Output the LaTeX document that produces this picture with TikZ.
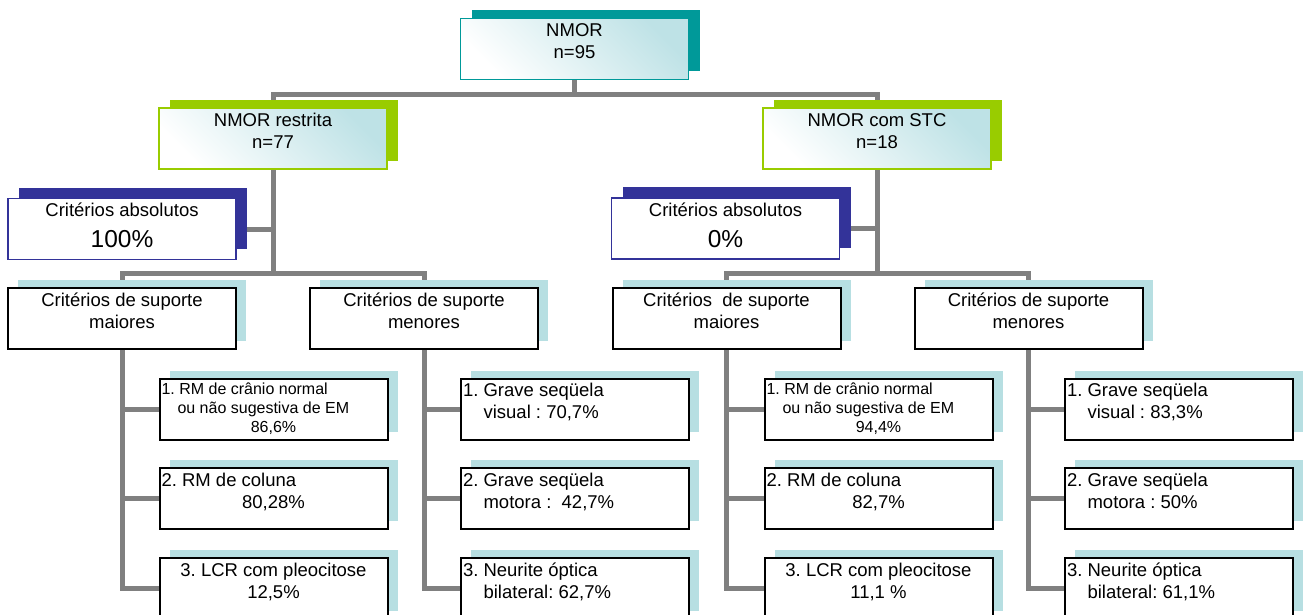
\documentclass[tikz,border=0pt]{standalone}
\usepackage{fontspec}
\setmainfont{Liberation Sans}
\usetikzlibrary{shadows,backgrounds}

\definecolor{tealc}{RGB}{0,153,153}
\definecolor{limec}{RGB}{153,204,0}
\definecolor{navyc}{RGB}{51,51,153}
\definecolor{paleblue}{RGB}{183,223,226}
\definecolor{paleteal}{RGB}{190,226,230}
\definecolor{linkgray}{RGB}{128,128,128}

\frenchspacing
\newcommand{\fsNorm}{\fontsize{18.5}{22}\selectfont}
\newcommand{\fsSmall}{\fontsize{16}{19}\selectfont}
\newcommand{\fsBig}{\fontsize{24.5}{28}\selectfont}
\newcommand{\cellbox}[1]{\parbox[c][55pt][t]{228pt}{\centering\strut#1}}
\newcommand{\lline}[1]{\makebox[\linewidth][l]{\hspace*{2pt}#1}}

\begin{document}
\begin{tikzpicture}[x=1pt, y=-1pt,
    box/.style={rectangle, inner xsep=0pt, inner ysep=3pt, font=\fsNorm},
    headbox/.style={box, draw=#1, line width=1.5pt,
                    top color=paleteal, bottom color=white, shading angle=-45,
                    drop shadow={shadow xshift=11pt, shadow yshift=8pt, fill=#1, opacity=1}},
    absbox/.style={box, draw=navyc, fill=white, line width=1.5pt,
                   drop shadow={shadow xshift=11pt, shadow yshift=11pt, fill=navyc, opacity=1}},
    critbox/.style={box, draw=black, fill=white, line width=2pt,
                    drop shadow={shadow xshift=10pt, shadow yshift=8pt, fill=paleblue, opacity=1}},
    link/.style={draw=linkgray, line width=5pt}
]
    \useasboundingbox (0,0) rectangle (1305,615);

    \node[headbox=tealc] (nmor) at (574.5,49) {\cellbox{NMOR\\n=95}};
    \node[headbox=limec] (restrita) at (273,138.5) {\cellbox{NMOR restrita\\n=77}};
    \node[headbox=limec] (stc) at (877,138.5) {\cellbox{NMOR com STC\\n=18}};

    \node[absbox] (absA) at (122,229) {\cellbox{Critérios absolutos\\[6pt]{\fsBig 100\%}}};
    \node[absbox] (absB) at (725.5,228.5) {\cellbox{Critérios absolutos\\[6pt]{\fsBig 0\%}}};

    \node[critbox] (majA) at (122,318.5) {\cellbox{Critérios de suporte\\maiores}};
    \node[critbox] (minA) at (424,318.5) {\cellbox{Critérios de suporte\\menores}};
    \node[critbox] (majB) at (726.5,318.5) {\cellbox{Critérios~~de suporte\\maiores}};
    \node[critbox] (minB) at (1028.5,318.5) {\cellbox{Critérios de suporte\\menores}};

    \node[critbox, font=\fsSmall] (majA1) at (273.5,409)
        {\cellbox{\lline{1. RM de crânio normal}\\\lline{\hspace*{16pt}ou não sugestiva de EM}\\86,6\%}};
    \node[critbox] (majA2) at (273.5,498.5) {\cellbox{\lline{2. RM de coluna}\\80,28\%}};
    \node[critbox] (majA3) at (273.5,588.5) {\cellbox{3. LCR com pleocitose\\12,5\%}};

    \node[critbox] (minA1) at (575,409) {\cellbox{\lline{1. Grave seqüela}\\\lline{\phantom{1.}\ visual : 70,7\%}}};
    \node[critbox] (minA2) at (575,498.5) {\cellbox{\lline{2. Grave seqüela}\\\lline{\phantom{1.}\ motora :~~42,7\%}}};
    \node[critbox] (minA3) at (575,588.5) {\cellbox{\lline{3. Neurite óptica}\\\lline{\phantom{1.}\ bilateral: 62,7\%}}};

    \node[critbox, font=\fsSmall] (majB1) at (878.5,409)
        {\cellbox{\lline{1. RM de crânio normal}\\\lline{\hspace*{16pt}ou não sugestiva de EM}\\94,4\%}};
    \node[critbox] (majB2) at (878.5,498.5) {\cellbox{\lline{2. RM de coluna}\\82,7\%}};
    \node[critbox] (majB3) at (878.5,588.5) {\cellbox{3. LCR com pleocitose\\11,1 \%}};

    \node[critbox] (minB1) at (1179,409) {\cellbox{\lline{1. Grave seqüela}\\\lline{\phantom{1.}\ visual : 83,3\%}}};
    \node[critbox] (minB2) at (1179,498.5) {\cellbox{\lline{2. Grave seqüela}\\\lline{\phantom{1.}\ motora : 50\%}}};
    \node[critbox] (minB3) at (1179,588.5) {\cellbox{\lline{3. Neurite óptica}\\\lline{\phantom{1.}\ bilateral: 61,1\%}}};

    \begin{scope}[on background layer]
        \draw[link] (nmor.south) -- ++(0,14) coordinate (j0) -| (restrita.north);
        \draw[link] (j0) -| (stc.north);

        \draw[link] (restrita.south) -- ++(0,104) coordinate (jA) -| (majA.north);
        \draw[link] (jA) -| (minA.north);
        \draw[link] (absA.east) -- (absA.east -| restrita.south);
        \draw[link] (stc.south) -- ++(0,104) coordinate (jB) -| (majB.north);
        \draw[link] (jB) -| (minB.north);
        \draw[link] (absB.east) -- (absB.east -| stc.south);

        \draw[link] (majA.south) |- (majA1.west);
        \draw[link] (majA.south) |- (majA2.west);
        \draw[link] (majA.south) |- (majA3.west);
        \draw[link] (minA.south) |- (minA1.west);
        \draw[link] (minA.south) |- (minA2.west);
        \draw[link] (minA.south) |- (minA3.west);
        \draw[link] (majB.south) |- (majB1.west);
        \draw[link] (majB.south) |- (majB2.west);
        \draw[link] (majB.south) |- (majB3.west);
        \draw[link] (minB.south) |- (minB1.west);
        \draw[link] (minB.south) |- (minB2.west);
        \draw[link] (minB.south) |- (minB3.west);
    \end{scope}
\end{tikzpicture}
\end{document}
